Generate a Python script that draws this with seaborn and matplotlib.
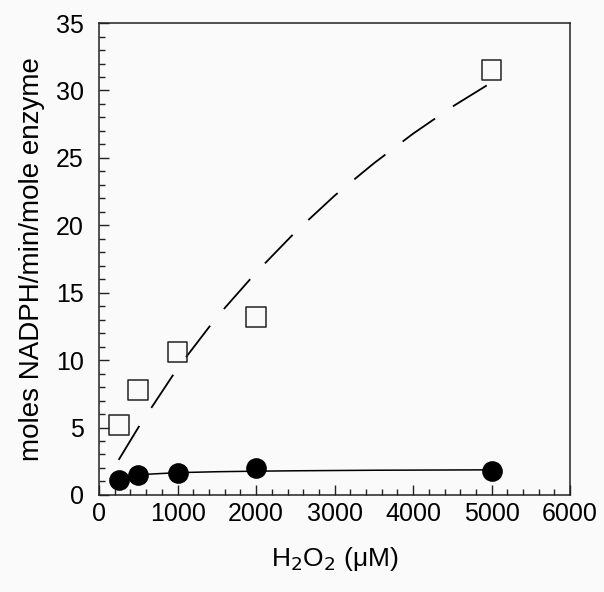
import numpy as np
import pandas as pd
import matplotlib
matplotlib.use('Agg')
import matplotlib.pyplot as plt
from matplotlib.ticker import MultipleLocator
import seaborn as sns

# measured points
h2o2 = [250, 500, 1000, 2000, 5000]
open_sq = [5.2, 7.8, 10.6, 13.2, 31.5]
filled_circ = [1.1, 1.45, 1.6, 2.0, 1.8]

# fitted curves
fit_x = [250, 500, 1000, 1500, 2000, 2500, 3000, 3500, 4000, 4500, 5000]
fit_dashed = [2.6, 5.0, 9.4, 13.2, 16.5, 19.5, 22.2, 24.6, 26.8, 28.8, 30.6]
fit_solid = [1.25, 1.5, 1.65, 1.72, 1.76, 1.79, 1.81, 1.83, 1.84, 1.85, 1.86]

sq_df = pd.DataFrame({'x': h2o2, 'y': open_sq})
ci_df = pd.DataFrame({'x': h2o2, 'y': filled_circ})
fit_df = pd.DataFrame({'x': fit_x, 'dashed': fit_dashed, 'solid': fit_solid})

sns.set_style('ticks')
plt.rcParams['font.family'] = ['Liberation Sans', 'DejaVu Sans']
plt.rcParams['text.color'] = 'black'
plt.rcParams['axes.labelcolor'] = 'black'
plt.rcParams['xtick.labelcolor'] = 'black'
plt.rcParams['ytick.labelcolor'] = 'black'

fig = plt.figure(figsize=(6.04, 5.92), dpi=100, facecolor='#fafafa')
ax = fig.add_axes([0.164, 0.164, 0.78, 0.797])
ax.set_facecolor('#fafafa')

sns.lineplot(data=fit_df, x='x', y='dashed', ax=ax, color='black', lw=1.3,
             dashes=False, zorder=2)
ax.lines[-1].set_dashes((22, 12))
sns.lineplot(data=fit_df, x='x', y='solid', ax=ax, color='black', lw=1.1, zorder=2)

sns.scatterplot(data=sq_df, x='x', y='y', ax=ax, marker='s', s=200,
                facecolor='none', edgecolor='#222222', linewidth=1.1, zorder=3)
sns.scatterplot(data=ci_df, x='x', y='y', ax=ax, marker='o', s=190,
                color='black', edgecolor='black', zorder=3)

ax.set_xlim(0, 6000)
ax.set_ylim(0, 35)
ax.xaxis.set_major_locator(MultipleLocator(1000))
ax.xaxis.set_minor_locator(MultipleLocator(200))
ax.yaxis.set_major_locator(MultipleLocator(5))
ax.yaxis.set_minor_locator(MultipleLocator(1))
ax.tick_params(which='both', direction='in', top=False, right=False,
               color='#222222', width=1)
ax.tick_params(which='major', length=7, labelsize=18)
ax.tick_params(axis='y', which='major', pad=11)
ax.tick_params(axis='x', which='major', pad=5)
ax.tick_params(which='minor', length=4)
for sp in ax.spines.values():
    sp.set_color('#222222')
    sp.set_linewidth(1.1)

ax.set_xlabel('H$_2$O$_2$ ($\\mathregular{\\mu}$M)', fontsize=19, labelpad=14)
ax.set_ylabel('moles NADPH/min/mole enzyme', fontsize=20, labelpad=8)

fig.savefig('out.png', dpi=100, facecolor=fig.get_facecolor())
